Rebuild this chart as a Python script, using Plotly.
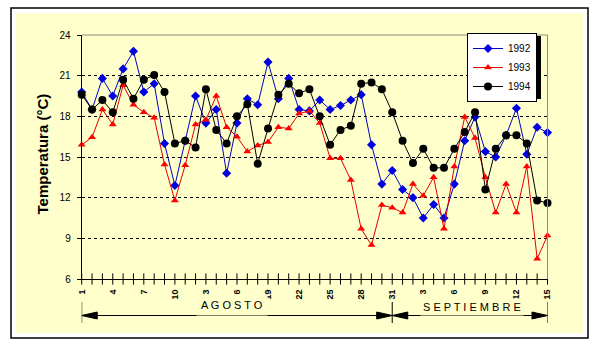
import plotly.graph_objects as go

# ---------------- data ----------------
day_index = list(range(46))  # 1 Aug ... 15 Sep
tick_positions = list(range(0, 46, 3))
tick_labels = ["1", "4", "7", "10", "13", "16", "19", "22", "25", "28",
               "31", "3", "6", "9", "12", "15"]
series_names = ["1992", "1993", "1994"]

t1992 = [19.8, 18.5, 20.8, 19.5, 21.5, 22.8, 19.8, 20.4, 16.0, 12.9,
         16.2, 19.5, 17.5, 18.5, 13.8, 17.5, 19.3, 18.85, 22.0, 19.3,
         20.8, 18.5, 18.4, 19.2, 18.5, 18.8, 19.2, 19.6, 15.9, 13.0,
         14.0, 12.6, 12.0, 10.5, 11.5, 10.5, 13.0, 16.2, 17.95, 15.4,
         15.0, 16.6, 18.6, 15.2, 17.2, 16.8]
t1993 = [15.9, 16.45, 18.5, 17.4, 20.3, 18.85, 18.3, 17.9, 14.45, 11.8,
         14.4, 17.4, 17.75, 19.5, 17.2, 16.5, 15.4, 15.85, 16.1, 17.2,
         17.1, 18.2, 18.4, 17.5, 14.9, 14.9, 13.3, 9.7, 8.5, 11.45,
         11.25, 10.9, 13.0, 12.15, 13.5, 9.7, 14.3, 17.95, 16.4, 13.5,
         10.9, 13.0, 10.9, 14.3, 7.5, 9.2]
t1994 = [19.6, 18.5, 19.2, 18.3, 20.7, 19.3, 20.7, 21.05, 19.8, 16.0,
         16.2, 15.7, 20.0, 17.0, 16.0, 18.0, 18.9, 14.5, 17.1, 19.6,
         20.4, 19.7, 20.0, 18.0, 15.9, 17.0, 17.3, 20.4, 20.5, 20.0,
         18.3, 16.2, 14.55, 15.6, 14.2, 14.2, 15.6, 16.85, 18.3, 12.6,
         15.6, 16.6, 16.6, 16.0, 11.8, 11.6]

y_ticks = [6, 9, 12, 15, 18, 21, 24]
month_labels = ["A G O S T O", "S E P T I E M B R E"]

# ---------------- layout helpers ----------------
W, H = 602, 349
def px(x):
    return x / W
def py(y):
    return 1 - y / H

FONT = "Arial, Liberation Sans, sans-serif"
YELLOW = "#FFFFCC"

fig = go.Figure()

styles = [
    dict(color="#0000E0", symbol="diamond", size=7, lc="#0000C0"),
    dict(color="#FF0000", symbol="triangle-up", size=7, lc="#E00000"),
    dict(color="#000000", symbol="circle", size=8, lc="#000000"),
]
for name, vals, st in zip(series_names, [t1992, t1993, t1994], styles):
    fig.add_trace(go.Scatter(
        x=day_index, y=vals, name=name, mode="lines+markers",
        line=dict(color=st["lc"], width=1),
        marker=dict(color=st["color"], symbol=st["symbol"], size=st["size"]),
        cliponaxis=False,
    ))

# crossing tick marks on the x axis (one per day)
fig.add_trace(go.Scatter(
    x=day_index, y=[y_ticks[0]] * len(day_index), mode="markers",
    marker=dict(symbol="line-ns", size=8, line=dict(color="black", width=1)),
    showlegend=False, hoverinfo="skip", cliponaxis=False,
))

LEG_TOP, LEG_H, LEG_L, LEG_W = 33, 63, 467, 71

shapes = [
    # outer frame
    dict(type="rect", xref="paper", yref="paper", x0=px(11), x1=px(588),
         y0=py(338), y1=py(8), line=dict(color="black", width=1.5),
         fillcolor="white", layer="below"),
    dict(type="rect", xref="paper", yref="paper", x0=px(16), x1=px(583),
         y0=py(333), y1=py(13), line=dict(width=0), fillcolor=YELLOW,
         layer="below"),
    # plot-area top/right border
    dict(type="line", xref="x domain", yref="y domain", x0=0, x1=1, y0=1, y1=1,
         line=dict(color="#8C8C78", width=1)),
    dict(type="line", xref="x domain", yref="y domain", x0=1, x1=1, y0=0, y1=1,
         line=dict(color="#8C8C78", width=1)),
    # legend shadow
    dict(type="rect", xref="paper", yref="paper",
         x0=px(LEG_L + 3), x1=px(LEG_L + LEG_W + 3),
         y0=py(LEG_TOP + LEG_H + 3), y1=py(LEG_TOP + 3),
         line=dict(width=0), fillcolor="black"),
]

# month span markers
first, split, last = day_index[0], day_index[30], day_index[-1]
yc = py(315.5)
yt, yb = py(302), py(323)
hh = 3.5 / H
al = 1.5
for xv in (first, split, last):
    shapes.append(dict(type="line", xref="x", yref="paper", x0=xv, x1=xv,
                       y0=yb, y1=yt, line=dict(color="black", width=1)))
shapes.append(dict(type="line", xref="x", yref="paper", x0=first, x1=last,
                   y0=yc, y1=yc, line=dict(color="black", width=1)))
for tip, direction in ((first, 1), (split, -1), (split, 1), (last, -1)):
    base = tip + direction * al
    shapes.append(dict(type="path", xref="x", yref="paper",
                       path=f"M {tip},{yc} L {base},{yc + hh} L {base},{yc - hh} Z",
                       fillcolor="black", line=dict(color="black", width=1)))

annotations = [
    dict(text="<b>Temperatura (°C)</b>", xref="paper", yref="paper",
         x=px(31), y=py(154), textangle=-90, showarrow=False,
         font=dict(family=FONT, size=15, color="black")),
    dict(text=month_labels[0], xref="x", yref="paper", x=14.5, y=yc,
         showarrow=False, bgcolor=YELLOW, borderpad=4,
         font=dict(family=FONT, size=11, color="black")),
    dict(text=month_labels[1], xref="x", yref="paper", x=37.7, y=yc,
         showarrow=False, bgcolor=YELLOW, borderpad=2,
         font=dict(family=FONT, size=11, color="black")),
]

fig.update_layout(
    width=W, height=H,
    margin=dict(l=0, r=0, t=0, b=0, autoexpand=False),
    paper_bgcolor="white",
    plot_bgcolor="white",
    shapes=shapes,
    annotations=annotations,
    showlegend=True,
    legend=dict(x=px(LEG_L), y=py(LEG_TOP), xanchor="left", yanchor="top",
                bgcolor="white", bordercolor="black", borderwidth=1,
                font=dict(family=FONT, size=10, color="black"),
                itemwidth=30, tracegroupgap=0),
    xaxis=dict(domain=[px(81.7), px(547.5)], range=[first, last],
               automargin=False,
               tickmode="array", tickvals=tick_positions, ticktext=tick_labels,
               tickangle=-90, ticks="", showgrid=False, zeroline=False,
               showline=True, linecolor="black", linewidth=1,
               ticklabelstandoff=6,
               tickfont=dict(family=FONT, size=9, color="black", weight="bold")),
    yaxis=dict(domain=[py(279), py(35)], range=[y_ticks[0], y_ticks[-1]],
               automargin=False,
               tickmode="array", tickvals=y_ticks,
               ticks="outside", ticklen=4, tickcolor="black",
               ticklabelstandoff=4,
               showgrid=True, gridcolor="black", griddash="3px,3px", gridwidth=1,
               zeroline=False, showline=True, linecolor="black", linewidth=1,
               tickfont=dict(family=FONT, size=10, color="black")),
)

fig.write_html("out.html")
